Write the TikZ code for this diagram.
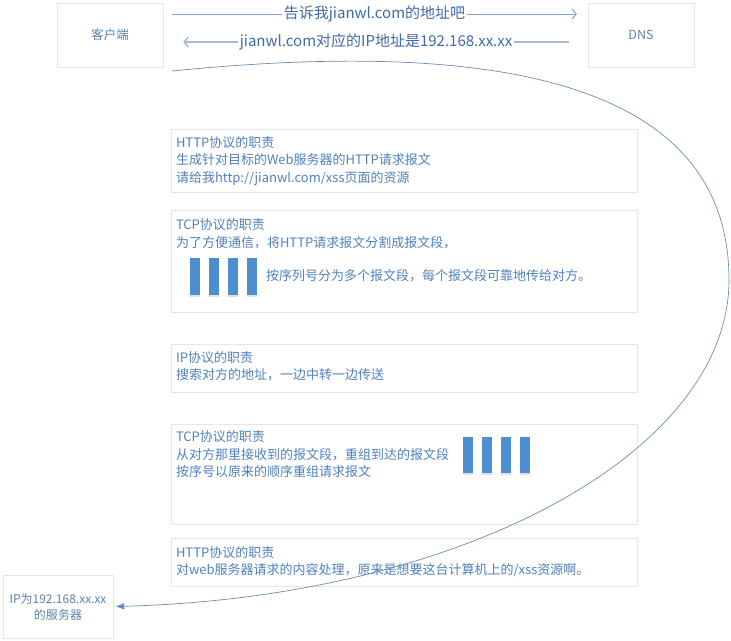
\documentclass[tikz,border=0pt]{standalone}
\usepackage{fontspec}
\setmainfont{Noto Sans CJK SC}
\usetikzlibrary{positioning, arrows.meta, shadows}
\definecolor{txtblue}{RGB}{79,129,189}
\definecolor{lblblue}{RGB}{62,108,168}
\definecolor{lineblue}{RGB}{132,160,200}
\definecolor{curveblue}{RGB}{104,140,186}
\definecolor{barblue}{RGB}{76,142,208}
\definecolor{edge}{RGB}{230,230,230}

\begin{document}
\begin{tikzpicture}[x=1pt, y=-1pt,
  hostbox/.style={rectangle, draw=edge, minimum width=106pt, minimum height=64pt, inner sep=0pt, align=center, text=txtblue!75!gray, font=\fontsize{12.5}{16}\selectfont},
  layer/.style={rectangle, draw=edge, minimum width=466pt, inner sep=0pt},
  txt/.style={inner sep=0pt, align=left, text=txtblue, font=\fontsize{13}{17.5}\selectfont},
  msg/.style={draw=lineblue, line width=1pt, -{Straight Barb[length=4pt, width=10pt]}},
  lbl/.style={fill=white, inner sep=1.5pt, text=lblblue, font=\fontsize{15}{18}\selectfont},
  bar/.style={fill=barblue, drop shadow={opacity=0.25, shadow xshift=0pt, shadow yshift=-1.5pt}},
  jump/.style={draw=curveblue, line width=0.7pt, -{Triangle[length=8pt, width=6pt]}}
]
\useasboundingbox (0,0) rectangle (731,640);

\node[hostbox] (client) at (110,35) {客户端};
\node[hostbox] (dns) at (641,35) {DNS};

\draw[msg] ([xshift=9pt, yshift=21pt]client.east) -- node[lbl]{告诉我jianwl.com的地址吧} ([xshift=-11pt, yshift=21pt]dns.west);
\draw[msg, draw=lineblue!70, line width=1.6pt] ([xshift=-19pt, yshift=-7pt]dns.west) -- node[lbl]{jianwl.com对应的IP地址是192.168.xx.xx} ([xshift=20pt, yshift=-7pt]client.east);

\node[layer, minimum height=63pt] (http1) at (404,160.5) {};
\node[layer, minimum height=102pt, below=18pt of http1] (tcp1) {};
\node[layer, minimum height=48pt, below=31pt of tcp1] (ip) {};
\node[layer, minimum height=100pt, below=32pt of ip] (tcp2) {};
\node[layer, minimum height=48pt, below=14pt of tcp2] (http2) {};

\node[txt, below right=7.5pt and 5pt of http1.north west] (http1txt) {HTTP协议的职责\\生成针对目标的Web服务器的HTTP请求报文\\请给我http://jianwl.com/xss页面的资源};
\node[txt, below right=8.5pt and 5pt of tcp1.north west] (tcp1txt) {TCP协议的职责\\为了方便通信，将HTTP请求报文分割成报文段，};
\foreach \i in {0,...,3}
  \fill[bar] (190+19*\i, 258) rectangle ++(9.5, 37);
\node[txt, anchor=west] (tcp1seg) at (266,276) {按序列号分为多个报文段，每个报文段可靠地传给对方。};
\node[txt, below right=7.5pt and 5pt of ip.north west] (iptxt) {IP协议的职责\\搜索对方的地址，一边中转一边传送};
\node[txt, below right=6.5pt and 5pt of tcp2.north west] (tcp2txt) {TCP协议的职责\\从对方那里接收到的报文段，重组到达的报文段\\按序号以原来的顺序重组请求报文};
\foreach \i in {0,...,3}
  \fill[bar] (463+19*\i, 437) rectangle ++(9.5, 36);
\node[txt, below right=7.5pt and 5pt of http2.north west] (http2txt) {HTTP协议的职责\\对web服务器请求的内容处理，原来是想要这台计算机上的/xss资源啊。};

\node[hostbox, minimum width=110pt, minimum height=63pt, font=\fontsize{12}{16}\selectfont] (server) at (58,606.5) {IP为192.168.xx.xx\\的服务器};

\coordinate (cstart) at (172,71);
\draw[jump] (cstart) .. controls (472,41) and (729,71) .. (729,280) .. controls (729,450) and (467,597) .. ([xshift=3pt]server.east);

\end{tikzpicture}
\end{document}
